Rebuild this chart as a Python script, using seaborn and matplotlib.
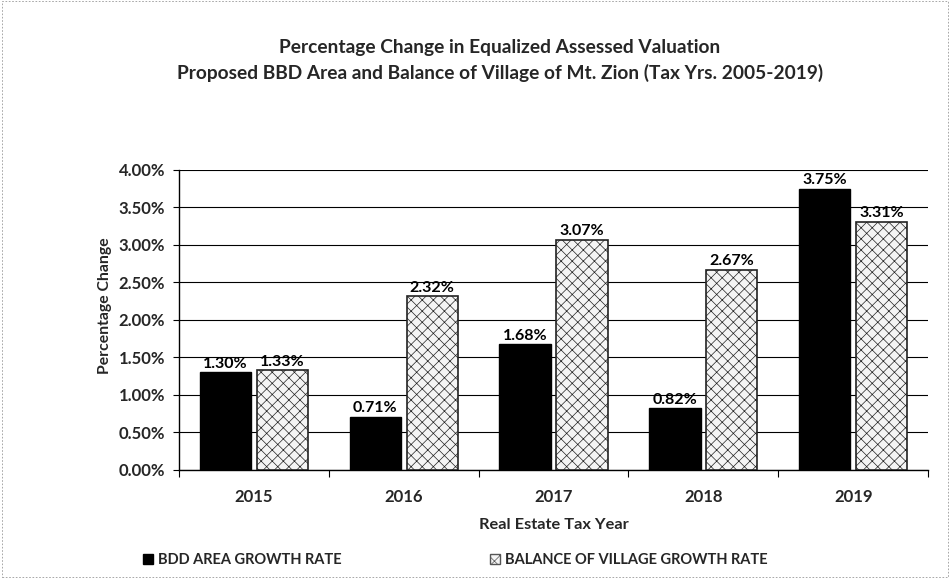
import matplotlib
matplotlib.use("Agg")
import matplotlib.pyplot as plt
import seaborn as sns
import pandas as pd
from matplotlib.patches import Patch
from matplotlib.ticker import FuncFormatter, MultipleLocator

years = ["2015", "2016", "2017", "2018", "2019"]
series_names = ["BDD AREA GROWTH RATE", "BALANCE OF VILLAGE GROWTH RATE"]
bdd_values = [1.30, 0.71, 1.68, 0.82, 3.75]
balance_values = [1.33, 2.32, 3.07, 2.67, 3.31]

df = pd.DataFrame({
    "Year": years * 2,
    "Series": [series_names[0]] * len(years) + [series_names[1]] * len(years),
    "Value": bdd_values + balance_values,
})

sns.set_theme(style="white")
plt.rcParams["font.family"] = ["Lato", "DejaVu Sans"]
plt.rcParams["font.weight"] = "bold"
plt.rcParams["hatch.linewidth"] = 0.5

fig = plt.figure(figsize=(9.5, 5.78), dpi=100)
ax = fig.add_axes([0.1884, 0.187, 0.977 - 0.1884, 0.706 - 0.187])

sns.barplot(data=df, x="Year", y="Value", hue="Series", order=years,
            hue_order=series_names, palette=["black", "white"],
            width=0.76, gap=0.1, edgecolor="black", linewidth=1.0,
            legend=False, ax=ax, zorder=3)

HATCH_FACE = "#f4f4f4"
HATCH = "xxx"
HATCH_COLOR = "#a8a8a8"
n = len(years)
for i, p in enumerate(ax.patches[:2 * n]):
    if i >= n:
        p.set_facecolor(HATCH_FACE)
        p.set_hatch(HATCH)
        p.set_edgecolor("#222222")
        p.set_linewidth(1.2)
        try:
            p.set_hatchcolor(HATCH_COLOR)
        except Exception:
            pass

for container in ax.containers:
    ax.bar_label(container, labels=[f"{v:.2f}%" for v in container.datavalues],
                 padding=1, fontsize=11.5, fontweight="bold", color="black")

ax.set_ylim(0, 4.0)
ax.yaxis.set_major_locator(MultipleLocator(0.5))
ax.yaxis.set_major_formatter(FuncFormatter(lambda v, _: f"{v:.2f}%"))
ax.set_xlim(-0.5, n - 0.5)
ax.grid(axis="y", color="black", linewidth=0.8, zorder=0)
ax.set_axisbelow(True)

for s in ["top", "right"]:
    ax.spines[s].set_visible(False)
ax.spines["left"].set_color("black")
ax.spines["bottom"].set_color("black")
ax.spines["left"].set_linewidth(1.0)
ax.spines["bottom"].set_linewidth(1.0)

ax.tick_params(axis="y", left=True, length=4, width=0.8, color="black",
               labelsize=12, pad=6)
ax.tick_params(axis="x", bottom=False, labelsize=12, pad=8)
ax.set_xticks(range(n))
ax.set_xticks([i + 0.5 for i in range(-1, n)], minor=True)
ax.tick_params(axis="x", which="minor", bottom=True, length=5, width=0.8,
               color="black")
for lbl in ax.get_xticklabels() + ax.get_yticklabels():
    lbl.set_fontweight("bold")

ax.set_xlabel("Real Estate Tax Year", fontsize=11.8, fontweight="bold", labelpad=9)
ax.set_ylabel("Percentage Change", fontsize=11.3, fontweight="bold")
ax.yaxis.set_label_coords(-0.089, 0.547)

fig.text(0.526, 0.918, "Percentage Change in Equalized Assessed Valuation",
         ha="center", va="center", fontsize=13.8, fontweight="bold")
fig.text(0.526, 0.873,
         "Proposed BBD Area and Balance of Village of Mt. Zion (Tax Yrs. 2005-2019)",
         ha="center", va="center", fontsize=13.8, fontweight="bold")

handles = [Patch(facecolor="black", edgecolor="black"),
           Patch(facecolor=HATCH_FACE, edgecolor="#555555", hatch=HATCH)]
fig.legend(handles, series_names, loc="center left", bbox_to_anchor=(0.137, 0.031),
           ncol=2, frameon=False, handlelength=0.7, handleheight=0.7,
           handletextpad=0.3, columnspacing=10.2, prop={"weight": "bold", "size": 10.5})

fig.patches.append(plt.Rectangle((0.002, 0.002), 0.996, 0.996, transform=fig.transFigure,
                                 fill=False, edgecolor="#999999", linewidth=0.6,
                                 linestyle=(0, (2, 2))))

fig.savefig("out.png", dpi=100)
